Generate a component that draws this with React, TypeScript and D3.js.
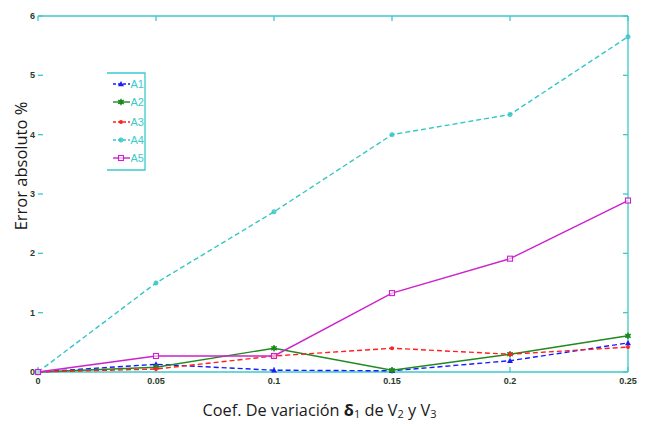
import React from "react";
import * as d3 from "d3";

// Coefficient of variation δ1 (x) and absolute error % for each case
const deltas = [0, 0.05, 0.1, 0.15, 0.2, 0.25];
const a1 = [0, 0.13, 0.03, 0.02, 0.19, 0.49];
const a2 = [0, 0.08, 0.4, 0.03, 0.3, 0.61];
const a3 = [0, 0.05, 0.27, 0.4, 0.3, 0.42];
const a4 = [0, 1.5, 2.7, 4.0, 4.34, 5.65];
const a5 = [0, 0.27, 0.27, 1.33, 1.91, 2.89];
const seriesNames = ["A1", "A2", "A3", "A4", "A5"];
const yTicks = [0, 1, 2, 3, 4, 5, 6];
const xTicks = [0, 0.05, 0.1, 0.15, 0.2, 0.25];

const W = 649;
const H = 422;
const AXIS = "#3ccaca";
const LABEL = "#2a3a2a";

type Marker = "tri" | "star" | "dot" | "circle" | "square";
interface Series {
  name: string;
  values: number[];
  color: string;
  dash?: string;
  marker: Marker;
}

const series: Series[] = [
  { name: seriesNames[0], values: a1, color: "#1a1aff", dash: "5,3", marker: "tri" },
  { name: seriesNames[1], values: a2, color: "#1f8a1f", marker: "star" },
  { name: seriesNames[2], values: a3, color: "#ff2020", dash: "5,3", marker: "dot" },
  { name: seriesNames[3], values: a4, color: "#33c6c6", dash: "5,3", marker: "circle" },
  { name: seriesNames[4], values: a5, color: "#cc22cc", marker: "square" },
];

function MarkerShape({ kind, x, y, color }: { kind: Marker; x: number; y: number; color: string }) {
  switch (kind) {
    case "tri":
      return <path d={`M${x},${y - 3}L${x + 3},${y + 2.2}L${x - 3},${y + 2.2}Z`} fill={color} />;
    case "star":
      return (
        <g stroke={color} strokeWidth={1.4}>
          <circle cx={x} cy={y} r={2.3} fill={color} stroke="none" />
          <line x1={x} y1={y - 3.2} x2={x} y2={y + 3.2} />
          <line x1={x - 2.8} y1={y - 1.8} x2={x + 2.8} y2={y + 1.8} />
          <line x1={x - 2.8} y1={y + 1.8} x2={x + 2.8} y2={y - 1.8} />
        </g>
      );
    case "dot":
      return <circle cx={x} cy={y} r={2} fill={color} />;
    case "circle":
      return <circle cx={x} cy={y} r={2.2} fill={color} stroke={color} strokeWidth={0.6} fillOpacity={0.8} />;
    case "square":
      return <rect x={x - 2.5} y={y - 2.5} width={5} height={5} fill="white" fillOpacity={0.6} stroke={color} strokeWidth={1.1} />;
  }
}

export default function App() {
  const x = d3.scaleLinear().domain([0, 0.25]).range([38, 628]);
  const y = d3.scaleLinear().domain([0, 6]).range([372, 16]);
  const line = d3
    .line<number>()
    .x((_, i) => x(deltas[i]))
    .y((v) => y(v));

  const left = x.range()[0];
  const right = x.range()[1];
  const top = y.range()[1];
  const bottom = y.range()[0];
  const tl = 5;

  // legend box
  const lgX0 = 107;
  const lgX1 = 145;
  const lgY0 = 73;
  const lgY1 = 170;
  const lgRows = [84, 102, 122, 140, 158];

  return (
    <svg
      width={W}
      height={H}
      viewBox={`0 0 ${W} ${H}`}
      style={{ position: "absolute", left: 0, top: 0, background: "white" }}
      fontFamily="'Liberation Sans', Arial, sans-serif"
    >
      {/* frame: top, right and bottom edges */}
      <g stroke={AXIS} strokeWidth={1.3} fill="none">
        <line x1={left} y1={top} x2={right} y2={top} />
        <line x1={right} y1={top} x2={right} y2={bottom} />
        <line x1={left} y1={bottom} x2={right} y2={bottom} />
        {xTicks.map((t) => (
          <g key={`xt${t}`}>
            <line x1={x(t)} y1={bottom} x2={x(t)} y2={bottom - tl} />
            <line x1={x(t)} y1={top} x2={x(t)} y2={top + tl} />
          </g>
        ))}
        {yTicks.map((t) => (
          <g key={`yt${t}`}>
            <line x1={left} y1={y(t)} x2={left + tl} y2={y(t)} />
            <line x1={right} y1={y(t)} x2={right - tl} y2={y(t)} />
          </g>
        ))}
      </g>

      {/* tick labels */}
      <g fontSize={9} fill={LABEL} fontWeight="bold">
        {yTicks.map((t) => (
          <text key={`yl${t}`} x={left - 3} y={y(t)} dy="0.35em" textAnchor="end">
            {d3.format("")(t)}
          </text>
        ))}
        {xTicks.map((t) => (
          <text key={`xl${t}`} x={x(t)} y={bottom + 12} textAnchor="middle">
            {d3.format("")(t)}
          </text>
        ))}
      </g>

      {/* data */}
      {series.map((s) => (
        <g key={s.name}>
          <path
            d={line(s.values) ?? ""}
            fill="none"
            stroke={s.color}
            strokeWidth={1.4}
            strokeDasharray={s.dash}
          />
          {s.values.map((v, i) => (
            <MarkerShape key={i} kind={s.marker} x={x(deltas[i])} y={y(v)} color={s.color} />
          ))}
        </g>
      ))}

      {/* legend */}
      <g>
        <path
          d={`M${lgX0},${lgY0}H${lgX1}V${lgY1}H${lgX0}`}
          fill="none"
          stroke={AXIS}
          strokeWidth={1.3}
        />
        {series.map((s, i) => (
          <g key={`lg${s.name}`}>
            <line
              x1={113}
              x2={130}
              y1={lgRows[i]}
              y2={lgRows[i]}
              stroke={s.color}
              strokeWidth={1.4}
              strokeDasharray={s.dash ? "3,2" : undefined}
            />
            <MarkerShape kind={s.marker} x={121} y={lgRows[i]} color={s.color} />
            <text x={130.5} y={lgRows[i]} dy="0.36em" fontSize={11} fill={AXIS}>
              {s.name}
            </text>
          </g>
        ))}
      </g>

      {/* axis titles */}
      <text
        transform={`translate(27,166) rotate(-90)`}
        textAnchor="middle"
        fontFamily="'Open Sans', sans-serif"
        fontSize={16.5}
        fill="#1a1a1a"
      >
        Error absoluto %
      </text>
      <text
        x={319.5}
        y={416}
        textAnchor="middle"
        fontFamily="'Open Sans', sans-serif"
        fontSize={16.3}
        fill="#1a1a1a"
      >
        Coef. De variación <tspan fontWeight="bold">δ</tspan>
        <tspan fontSize={11} dy={2}>1</tspan>
        <tspan dy={-2}> de V</tspan>
        <tspan fontSize={11} dy={2}>2</tspan>
        <tspan dy={-2}> y V</tspan>
        <tspan fontSize={11} dy={2}>3</tspan>
      </text>
    </svg>
  );
}
